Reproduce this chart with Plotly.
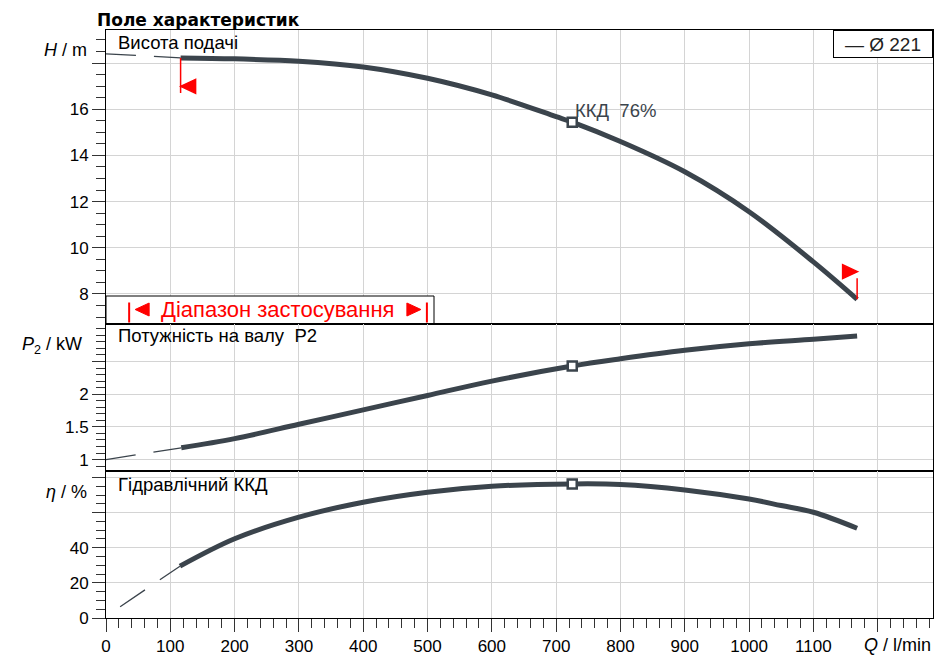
import plotly.graph_objects as go
from plotly.subplots import make_subplots

# Q in l/min
q_h_dash = [0, 116]
h_dash = [18.40, 18.22]
q_h = [116, 200, 300, 400, 500, 600, 700, 725, 800, 900, 1000, 1100, 1168]
h = [18.22, 18.18, 18.08, 17.83, 17.34, 16.62, 15.68, 15.44, 14.60, 13.29, 11.56, 9.39, 7.77]

q_p_dash = [0, 117]
p_dash = [1.00, 1.18]
q_p = [117, 200, 300, 400, 500, 600, 725, 800, 900, 1000, 1100, 1168]
p2 = [1.18, 1.32, 1.54, 1.76, 1.98, 2.20, 2.43, 2.54, 2.67, 2.77, 2.84, 2.89]

q_eta_dash = [22, 115]
eta_dash = [6.4, 29.5]
q_eta = [115, 200, 300, 400, 500, 600, 725, 800, 900, 1000, 1050, 1100, 1168]
eta = [29.5, 45.1, 57.4, 65.9, 71.6, 75.0, 76.3, 76.0, 72.9, 67.7, 64.0, 60.2, 51.1]

bep_q = [725]
bep_h = [15.44]
bep_p2 = [2.43]
bep_eta = [76.3]

app_range = [36, 499]
x_ticks = list(range(0, 1300, 100))
x_labels = [str(v) for v in x_ticks[:-1]] + [""]

CURVE = "#3b444c"
GRID = "#d4d4d4"
FONT = "Liberation Sans, Arial, sans-serif"

# the page body adds an 8px offset, so the figure is a bit smaller
OFF = 8
# pixel helpers for the decorations (plot area 106..933 x 30..618 in the window)
L, R, T, B = 106, 933, 30, 618
def px(x):
    return (x - L) / (R - L)
def py(y):
    return (B - y) / (B - T)

fig = make_subplots(rows=3, cols=1, shared_xaxes=True, vertical_spacing=0,
                    row_heights=[0.4992, 0.2513, 0.2495])

def add_curve(row, qd, vd, q, v, bq, bv):
    fig.add_trace(go.Scatter(x=qd, y=vd, mode="lines",
                             line=dict(color=CURVE, width=1.3, dash="30px,18px")), row=row, col=1)
    fig.add_trace(go.Scatter(x=q, y=v, mode="lines",
                             line=dict(color=CURVE, width=5, shape="spline", smoothing=1)), row=row, col=1)
    fig.add_trace(go.Scatter(x=bq, y=bv, mode="markers",
                             marker=dict(symbol="square", size=9, color="white",
                                         line=dict(color=CURVE, width=2.5))), row=row, col=1)

add_curve(1, q_h_dash, h_dash, q_h, h, bep_q, bep_h)
add_curve(2, q_p_dash, p_dash, q_p, p2, bep_q, bep_p2)
add_curve(3, q_eta_dash, eta_dash, q_eta, eta, bep_q, bep_eta)

tickfont = dict(family=FONT, size=17, color="black")
for i in (1, 2, 3):
    fig.update_xaxes(row=i, col=1, range=[0, 1286], tickvals=x_ticks, ticktext=x_labels,
                     automargin=False,
                     showgrid=True, gridcolor=GRID, gridwidth=1, zeroline=False,
                     showline=True, mirror=True, linecolor="black", linewidth=1,
                     tickfont=tickfont,
                     ticks="outside" if i == 3 else "", ticklen=13, tickcolor="#333",
                     showticklabels=(i == 3),
                     minor=dict(dtick=20, tick0=0, ticks="outside" if i == 3 else "",
                                ticklen=9, tickcolor="#333", showgrid=False))

ycommon = dict(showgrid=True, gridcolor=GRID, gridwidth=1, zeroline=False, automargin=False,
               showline=True, mirror=True, linecolor="black", linewidth=1,
               ticks="outside", ticklen=13, tickcolor="#333", tickfont=tickfont)
fig.update_yaxes(row=1, col=1, range=[6.72, 19.43], tickvals=[8, 10, 12, 14, 16, 18],
                 ticktext=["8", "10", "12", "14", "16", ""],
                 minor=dict(dtick=0.5, tick0=0, ticks="outside", ticklen=9, tickcolor="#333", showgrid=False),
                 **ycommon)
fig.update_yaxes(row=2, col=1, range=[0.821, 3.08], tickvals=[1, 1.5, 2, 2.5],
                 ticktext=["1", "1.5", "2", ""],
                 minor=dict(dtick=0.1, tick0=0, ticks="outside", ticklen=9, tickcolor="#333", showgrid=False),
                 **ycommon)
fig.update_yaxes(row=3, col=1, range=[0, 83.5], tickvals=[0, 20, 40, 60, 80],
                 ticktext=["0", "20", "40", "", ""],
                 minor=dict(dtick=5, tick0=0, ticks="outside", ticklen=9, tickcolor="#333", showgrid=False),
                 **ycommon)

bar_y0, bar_y1 = py(322.5), py(302.5)
tri_y = py(309.5)
shapes = [
    # application range box
    dict(type="rect", xref="paper", yref="paper", x0=px(106), x1=px(434), y0=py(323.5), y1=py(296),
         fillcolor="white", line=dict(color="black", width=1), layer="above"),
    dict(type="line", xref="x", yref="paper", x0=app_range[0], x1=app_range[0], y0=bar_y0, y1=bar_y1,
         line=dict(color="red", width=2), layer="above"),
    dict(type="line", xref="x", yref="paper", x0=app_range[1], x1=app_range[1], y0=bar_y0, y1=bar_y1,
         line=dict(color="red", width=2), layer="above"),
    dict(type="path", xref="x", yref="paper", xsizemode="pixel", ysizemode="pixel",
         xanchor=app_range[0], yanchor=tri_y, path="M6,0 L20,6.5 L20,-6.5 Z",
         fillcolor="red", line=dict(color="red", width=1), layer="above"),
    dict(type="path", xref="x", yref="paper", xsizemode="pixel", ysizemode="pixel",
         xanchor=app_range[1], yanchor=tri_y, path="M-6,0 L-20,6.5 L-20,-6.5 Z",
         fillcolor="red", line=dict(color="red", width=1), layer="above"),
    # start / end flags on the head curve
    dict(type="path", xref="x", yref="y", xsizemode="pixel", ysizemode="pixel",
         xanchor=q_h[0], yanchor=h[0],
         path="M0,0 L0,-35 M0,-28.4 L15,-21.4 L15,-35.4 Z",
         fillcolor="red", line=dict(color="red", width=1.5), layer="above"),
    dict(type="path", xref="x", yref="y", xsizemode="pixel", ysizemode="pixel",
         xanchor=q_h[-1], yanchor=h[-1],
         path="M0,0 L0,21 M0.5,27.6 L-14.5,20.6 L-14.5,34.6 Z",
         fillcolor="red", line=dict(color="red", width=1.5), layer="above"),
]

def note(text, x, y, xanchor="left", yanchor="middle", size=18.5, color="black", family=FONT, **kw):
    return dict(text=text, xref="paper", yref="paper", x=px(x), y=py(y), xanchor=xanchor,
                yanchor=yanchor, showarrow=False, font=dict(family=family, size=size, color=color), **kw)

annotations = [
    note("<b>Поле характеристик</b>", 95, OFF, yanchor="top", family="DejaVu Sans, sans-serif", size=17),
    note("Висота подачі", 116, 43),
    note("Потужність на валу  P2", 116, 335),
    note("Гідравлічний ККД", 116, 484),
    note("<i>H</i> / m", 89, 50, xanchor="right", size=18),
    note("<i>P</i><sub>2</sub> / kW", 84, 345, xanchor="right", size=18),
    note("<i>η</i> / %", 89, 492, xanchor="right", size=18),
    note("<i>Q</i> / l/min", 933, 645, xanchor="right", size=18),
    note("ККД  76%", 573, 110, color=CURVE),
    note("Діапазон застосування", 277.5, 309.5, xanchor="center", size=22, color="red"),
    dict(text="— Ø 221", xref="paper", yref="paper", x=1, y=1, xanchor="right", yanchor="top",
         showarrow=False, font=dict(family=FONT, size=19, color="#222"),
         bordercolor="black", borderwidth=1, borderpad=2, bgcolor="white", width=94, height=22),
]

fig.update_layout(width=945 - OFF, height=661 - OFF,
                  margin=dict(l=L - OFF, r=945 - R, t=T - OFF, b=661 - B),
                  plot_bgcolor="white", paper_bgcolor="white", showlegend=False,
                  shapes=shapes, annotations=annotations)

fig.write_html("out.html")
